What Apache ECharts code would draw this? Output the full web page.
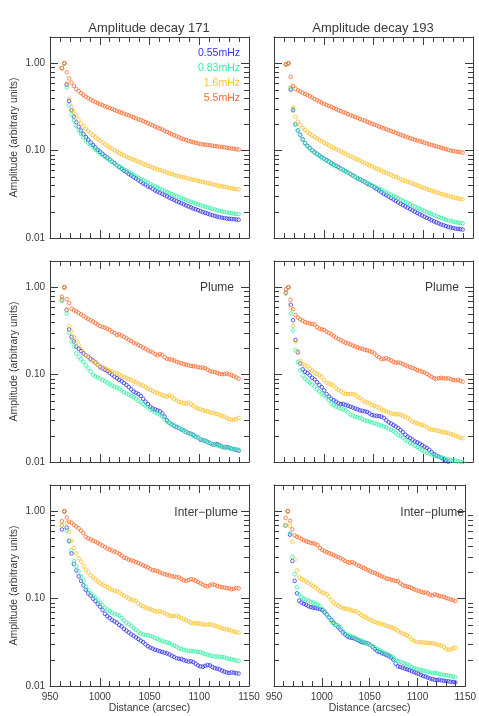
<!DOCTYPE html>
<html>
<head>
<meta charset="utf-8">
<script src="https://cdn.jsdelivr.net/npm/echarts/dist/echarts.min.js"></script>
<style>
html,body{margin:0;padding:0;background:#fff;}
#chart{width:479px;height:716px;}
</style>
</head>
<body>
<div id="chart"></div>
<script>
// ---- distances (arcsec) ----
const distance = [962.0,964.4,966.8,969.2,971.6,974.0,976.4,978.8,981.2,983.6,986.0,988.4,990.8,993.2,995.6,
998.0,1000.4,1002.8,1005.2,1007.6,1010.0,1012.4,1014.8,1017.2,1019.6,1022.0,1024.4,1026.8,1029.2,1031.6,
1034.0,1036.4,1038.8,1041.2,1043.6,1046.0,1048.4,1050.8,1053.2,1055.6,1058.0,1060.4,1062.8,1065.2,1067.6,
1070.0,1072.4,1074.8,1077.2,1079.6,1082.0,1084.4,1086.8,1089.2,1091.6,1094.0,1096.4,1098.8,1101.2,1103.6,
1106.0,1108.4,1110.8,1113.2,1115.6,1118.0,1120.4,1122.8,1125.2,1127.6,1130.0,1132.4,1134.8,1137.2,1139.6];

const seriesNames = ['0.55mHz','0.83mHz','1.6mHz','5.5mHz'];
const titles = ['Amplitude decay 171','Amplitude decay 193'];
const regionLabels = ['', 'Plume', 'Inter\u2212plume'];
const yTickLabels = [0.01, 0.1, 1];
const yMinorTicks = [0.02,0.03,0.04,0.05,0.06,0.07,0.08,0.09,0.2,0.3,0.4,0.5,0.6,0.7,0.8,0.9];

// ---- Amplitude decay 171 (all) ----
const all171Blue = [0.88,1.00,0.57,0.37,0.29, 0.245,0.212,0.188,0.170,0.155, 0.143,0.133,0.124,0.116,0.109,
0.102,0.097,0.092,0.087,0.083, 0.079,0.075,0.072,0.068,0.065, 0.062,0.059,0.057,0.054,0.052,
0.050,0.048,0.046,0.044,0.042, 0.041,0.039,0.038,0.0365,0.035, 0.034,0.033,0.032,0.031,0.030,
0.029,0.028,0.0272,0.0264,0.0257, 0.025,0.0243,0.0236,0.023,0.0224, 0.0218,0.0213,0.0208,0.0203,0.0198,
0.0194,0.019,0.0186,0.0182,0.0179, 0.0176,0.0173,0.0171,0.0169,0.0167, 0.0166,0.0165,0.0164,0.0163,0.0162];
const all171Green = [0.88,1.00,0.53,0.33,0.26, 0.22,0.19,0.17,0.155,0.142, 0.132,0.123,0.116,0.109,0.103,
0.098,0.093,0.089,0.085,0.081, 0.078,0.074,0.071,0.068,0.066, 0.063,0.061,0.059,0.057,0.055,
0.053,0.051,0.049,0.0475,0.046, 0.0445,0.043,0.0415,0.040,0.039, 0.0378,0.0367,0.0356,0.0346,0.0336,
0.0327,0.0318,0.031,0.0302,0.0294, 0.0287,0.028,0.0273,0.0266,0.026, 0.0254,0.0248,0.0243,0.0238,0.0233,
0.0228,0.0224,0.022,0.0216,0.0212, 0.0208,0.0205,0.0202,0.0199,0.0196, 0.0194,0.0192,0.019,0.0189,0.0188];
const all171Yellow = [0.88,1.00,0.59,0.39,0.32, 0.28,0.25,0.225,0.205,0.19, 0.178,0.167,0.158,0.150,0.143,
0.136,0.130,0.124,0.119,0.114, 0.109,0.105,0.101,0.097,0.094, 0.091,0.088,0.085,0.083,0.081,
0.079,0.077,0.075,0.073,0.071, 0.069,0.067,0.066,0.064,0.063, 0.061,0.060,0.059,0.057,0.056,
0.055,0.054,0.053,0.052,0.051, 0.050,0.0495,0.049,0.048,0.047, 0.0465,0.046,0.045,0.0445,0.044,
0.0432,0.0425,0.042,0.0413,0.0406, 0.040,0.0395,0.039,0.0385,0.038, 0.0375,0.037,0.0366,0.0362,0.036];
const all171Orange = [0.88,1.00,0.79,0.67,0.60, 0.55,0.51,0.48,0.455,0.435, 0.415,0.40,0.385,0.372,0.36,
0.35,0.34,0.331,0.323,0.315, 0.307,0.300,0.292,0.285,0.278, 0.271,0.265,0.259,0.253,0.247,
0.241,0.235,0.229,0.224,0.218, 0.212,0.206,0.200,0.195,0.189, 0.184,0.179,0.174,0.169,0.164,
0.159,0.154,0.150,0.146,0.142, 0.138,0.135,0.132,0.129,0.127, 0.125,0.123,0.121,0.119,0.118,
0.117,0.116,0.115,0.114,0.113, 0.112,0.111,0.110,0.109,0.108, 0.107,0.106,0.105,0.104,0.103];

// ---- Amplitude decay 193 (all) ----
const all193Blue = [0.97,1.00,0.50,0.29,0.20, 0.17,0.152,0.135,0.122,0.113, 0.107,0.101,0.096,0.092,0.088,
0.084,0.081,0.078,0.075,0.072, 0.069,0.067,0.065,0.062,0.060, 0.058,0.056,0.054,0.052,0.050,
0.048,0.047,0.045,0.044,0.042, 0.041,0.0395,0.038,0.0365,0.035, 0.0335,0.032,0.031,0.0298,0.0287,
0.0276,0.0266,0.0256,0.0247,0.0238, 0.023,0.0222,0.0214,0.0207,0.020, 0.0193,0.0187,0.0181,0.0175,0.017,
0.0165,0.016,0.0155,0.0151,0.0147, 0.0143,0.014,0.0137,0.0134,0.0132, 0.013,0.0128,0.0127,0.0126,0.0125];
const all193Green = [0.97,1.00,0.52,0.30,0.20, 0.17,0.150,0.133,0.121,0.112, 0.106,0.100,0.095,0.091,0.087,
0.083,0.080,0.077,0.074,0.071, 0.068,0.066,0.064,0.062,0.060, 0.058,0.056,0.054,0.052,0.050,
0.048,0.047,0.0455,0.044,0.043, 0.0415,0.040,0.039,0.0378,0.0366, 0.0355,0.0344,0.0333,0.0322,0.0312,
0.0302,0.0293,0.0284,0.0275,0.0267, 0.0259,0.0251,0.0243,0.0236,0.0229, 0.0222,0.0216,0.021,0.0204,0.0198,
0.0193,0.0188,0.0183,0.0178,0.0174, 0.017,0.0166,0.0162,0.0159,0.0156, 0.0154,0.0152,0.015,0.0148,0.0147];
const all193Yellow = [0.97,1.00,0.54,0.31,0.245, 0.215,0.197,0.182,0.172,0.163, 0.156,0.149,0.143,0.138,0.133,
0.128,0.123,0.119,0.115,0.111, 0.107,0.104,0.101,0.098,0.095, 0.092,0.089,0.086,0.084,0.081,
0.079,0.077,0.074,0.072,0.070, 0.068,0.066,0.064,0.062,0.061, 0.059,0.057,0.056,0.054,0.053,
0.051,0.050,0.049,0.047,0.046, 0.045,0.044,0.043,0.042,0.041, 0.040,0.039,0.038,0.0372,0.0364,
0.0356,0.0348,0.034,0.0333,0.0326, 0.032,0.0314,0.0308,0.0302,0.0297, 0.0292,0.0288,0.0284,0.028,0.0277];
const all193Orange = [0.97,1.00,0.70,0.55,0.51, 0.49,0.475,0.46,0.445,0.432, 0.42,0.405,0.39,0.378,0.366,
0.354,0.344,0.334,0.325,0.316, 0.307,0.299,0.291,0.283,0.276, 0.269,0.262,0.255,0.249,0.243,
0.237,0.231,0.225,0.22,0.214, 0.209,0.204,0.199,0.194,0.189, 0.185,0.18,0.176,0.172,0.168,
0.164,0.16,0.156,0.152,0.149, 0.145,0.142,0.139,0.136,0.133, 0.131,0.128,0.126,0.123,0.121,
0.118,0.116,0.114,0.112,0.110, 0.108,0.106,0.104,0.102,0.100, 0.099,0.098,0.097,0.096,0.095];

// ---- Plume 171 ----
const plume171Blue = [0.72,1.00,0.55,0.33,0.27, 0.24,0.21,0.198,0.186,0.175, 0.167,0.16,0.152,0.145,0.138,
0.13,0.122,0.118,0.114,0.11, 0.105,0.10,0.095,0.091,0.087, 0.084,0.080,0.076,0.072,0.068,
0.064,0.062,0.06,0.057,0.053, 0.049,0.046,0.043,0.041,0.040, 0.039,0.038,0.036,0.033,0.030,
0.028,0.027,0.026,0.025,0.0245, 0.0235,0.023,0.022,0.0215,0.021, 0.0205,0.0195,0.019,0.018,0.0178,
0.0175,0.017,0.0165,0.016,0.0158, 0.016,0.0155,0.015,0.0147,0.0148, 0.0146,0.0142,0.014,0.0138,0.0135];
const plume171Green = [0.70,1.00,0.50,0.30,0.24, 0.21,0.175,0.16,0.15,0.14, 0.128,0.118,0.108,0.10,0.096,
0.093,0.090,0.087,0.084,0.081, 0.078,0.075,0.073,0.071,0.069, 0.066,0.063,0.061,0.059,0.057,
0.055,0.053,0.050,0.048,0.046, 0.044,0.042,0.040,0.039,0.037, 0.036,0.035,0.033,0.031,0.029,
0.028,0.027,0.0262,0.0255,0.0245, 0.0235,0.0228,0.0222,0.0215,0.0208, 0.020,0.0195,0.019,0.0183,0.0178,
0.0172,0.0168,0.0164,0.016,0.0157, 0.0155,0.0152,0.015,0.0148,0.0145, 0.0144,0.0142,0.0141,0.014,0.0138];
const plume171Yellow = [0.72,1.00,0.56,0.36,0.31, 0.27,0.245,0.22,0.195,0.18, 0.168,0.158,0.148,0.142,0.136,
0.13,0.125,0.121,0.118,0.114, 0.111,0.108,0.105,0.103,0.10, 0.097,0.094,0.092,0.089,0.087,
0.084,0.082,0.079,0.077,0.075, 0.072,0.069,0.067,0.065,0.063, 0.062,0.060,0.058,0.057,0.056,
0.058,0.056,0.053,0.051,0.049, 0.048,0.047,0.0465,0.048,0.046, 0.044,0.042,0.041,0.040,0.039,
0.0385,0.038,0.037,0.0365,0.036, 0.0355,0.0345,0.0335,0.033,0.032, 0.031,0.0305,0.0305,0.031,0.032];
const plume171Orange = [0.78,1.00,0.73,0.66,0.57, 0.545,0.53,0.51,0.49,0.47, 0.45,0.435,0.42,0.405,0.39,
0.375,0.36,0.352,0.345,0.335, 0.325,0.31,0.30,0.285,0.29, 0.28,0.27,0.262,0.25,0.243,
0.232,0.226,0.218,0.212,0.204, 0.198,0.19,0.184,0.18,0.172, 0.166,0.172,0.168,0.158,0.152,
0.15,0.148,0.145,0.14,0.138, 0.135,0.132,0.13,0.128,0.126, 0.125,0.124,0.122,0.12,0.121,
0.118,0.114,0.11,0.108,0.107, 0.105,0.102,0.101,0.102,0.103, 0.101,0.099,0.096,0.093,0.090];

// ---- Plume 193 ----
const plume193Blue = [0.87,1.00,0.63,0.42,0.25, 0.18,0.135,0.115,0.108,0.104, 0.098,0.092,0.088,0.082,0.076,
0.072,0.066,0.06,0.056,0.053, 0.051,0.049,0.047,0.046,0.046, 0.045,0.044,0.043,0.042,0.041,
0.040,0.039,0.0385,0.038,0.0375, 0.036,0.0345,0.034,0.0338,0.0335, 0.033,0.032,0.030,0.0285,0.0275,
0.0265,0.0255,0.0245,0.0232,0.022, 0.0205,0.0195,0.0188,0.018,0.0172, 0.0168,0.0162,0.0156,0.015,0.0145,
0.0138,0.013,0.0123,0.0118,0.0115, 0.0112,0.0108,0.0104,0.0101,0.0099, 0.0097,0.0096,0.0095,0.0094,0.0093];
const plume193Green = [0.85,1.00,0.50,0.32,0.19, 0.14,0.112,0.098,0.09,0.085, 0.081,0.077,0.073,0.068,0.064,
0.061,0.058,0.055,0.051,0.047, 0.045,0.043,0.042,0.041,0.040, 0.039,0.037,0.035,0.034,0.033,
0.0325,0.032,0.031,0.030,0.0295, 0.029,0.0283,0.0278,0.0272,0.0266, 0.026,0.0255,0.025,0.024,0.0234,
0.0225,0.0215,0.0205,0.0198,0.019, 0.0178,0.0172,0.0165,0.016,0.0153, 0.0148,0.0142,0.0137,0.0132,0.0128,
0.0125,0.0122,0.0119,0.0117,0.0115, 0.0113,0.0111,0.0109,0.0107,0.0105, 0.0104,0.0103,0.0102,0.0101,0.0100];
const plume193Yellow = [0.85,1.00,0.58,0.36,0.24, 0.185,0.145,0.132,0.128,0.124, 0.117,0.111,0.106,0.102,0.099,
0.094,0.086,0.081,0.079,0.077, 0.075,0.07,0.067,0.065,0.062, 0.06,0.06,0.06,0.06,0.059,
0.056,0.054,0.051,0.049,0.048, 0.047,0.045,0.044,0.043,0.042, 0.04,0.039,0.038,0.037,0.036,
0.0355,0.035,0.0352,0.0348,0.034, 0.033,0.032,0.0305,0.029,0.0283, 0.0278,0.027,0.0265,0.026,0.025,
0.024,0.0235,0.0232,0.023,0.0226, 0.0222,0.022,0.0217,0.0213,0.021, 0.0205,0.02,0.0195,0.019,0.0187];
const plume193Orange = [0.95,1.00,0.72,0.56,0.48, 0.45,0.43,0.415,0.40,0.39, 0.385,0.38,0.375,0.35,0.335,
0.33,0.325,0.31,0.30,0.29, 0.278,0.265,0.255,0.248,0.24, 0.232,0.228,0.222,0.215,0.21,
0.205,0.20,0.197,0.192,0.19, 0.186,0.182,0.175,0.165,0.158, 0.15,0.152,0.154,0.15,0.146,
0.14,0.137,0.138,0.136,0.132, 0.128,0.125,0.122,0.119,0.116, 0.113,0.11,0.108,0.106,0.102,
0.098,0.094,0.091,0.09,0.091, 0.092,0.091,0.09,0.091,0.089, 0.087,0.086,0.087,0.085,0.083];

// ---- Inter-plume 171 ----
const inter171Blue = [0.62,1.00,0.65,0.46,0.33, 0.25,0.21,0.18,0.16,0.142, 0.126,0.115,0.108,0.10,0.094,
0.087,0.081,0.074,0.067,0.063, 0.06,0.057,0.055,0.053,0.05, 0.048,0.045,0.043,0.041,0.039,
0.0375,0.036,0.0345,0.033,0.0318, 0.030,0.0285,0.0275,0.0268,0.026, 0.0255,0.025,0.0245,0.024,0.0236,
0.023,0.0222,0.0215,0.0208,0.0205, 0.0204,0.0198,0.0194,0.019,0.0192, 0.0188,0.018,0.0172,0.0168,0.0166,
0.017,0.0174,0.0172,0.0165,0.016, 0.0158,0.0155,0.015,0.0146,0.0143, 0.0141,0.0143,0.0142,0.014,0.0139];
const inter171Green = [0.69,1.00,0.60,0.45,0.36, 0.27,0.235,0.205,0.18,0.16, 0.138,0.125,0.115,0.108,0.103,
0.096,0.09,0.084,0.078,0.075, 0.072,0.069,0.066,0.066,0.064, 0.06,0.056,0.053,0.051,0.049,
0.046,0.044,0.042,0.040,0.039, 0.0385,0.038,0.0375,0.0365,0.0355, 0.0345,0.0335,0.0328,0.032,0.0315,
0.031,0.0298,0.029,0.0282,0.0272, 0.0265,0.026,0.0255,0.0252,0.0253, 0.025,0.0248,0.0246,0.0243,0.0238,
0.0232,0.0228,0.0224,0.022,0.0217, 0.0218,0.0216,0.0214,0.0212,0.0208, 0.0205,0.0202,0.0198,0.0196,0.0194];
const inter171Yellow = [0.69,1.00,0.74,0.58,0.46, 0.38,0.33,0.29,0.265,0.235, 0.215,0.20,0.185,0.175,0.166,
0.157,0.15,0.145,0.14,0.136, 0.13,0.126,0.123,0.122,0.118, 0.112,0.108,0.104,0.10,0.097,
0.096,0.094,0.088,0.084,0.082, 0.079,0.077,0.076,0.074,0.072, 0.071,0.072,0.07,0.068,0.066,
0.064,0.063,0.063,0.064,0.062, 0.06,0.058,0.057,0.055,0.053, 0.052,0.0525,0.052,0.0515,0.051,
0.05,0.0505,0.051,0.05,0.049, 0.048,0.047,0.046,0.045,0.0445, 0.044,0.043,0.042,0.0415,0.041];
const inter171Orange = [0.77,1.00,0.85,0.76,0.74, 0.70,0.67,0.64,0.60,0.565, 0.51,0.49,0.475,0.46,0.45,
0.435,0.42,0.405,0.39,0.375, 0.365,0.355,0.345,0.338,0.325, 0.31,0.295,0.29,0.28,0.275,
0.27,0.262,0.255,0.248,0.24, 0.235,0.228,0.218,0.212,0.21, 0.207,0.2,0.195,0.19,0.188,
0.185,0.18,0.179,0.176,0.175, 0.168,0.162,0.16,0.163,0.167, 0.165,0.16,0.155,0.15,0.145,
0.14,0.138,0.142,0.146,0.144, 0.14,0.137,0.135,0.134,0.132, 0.131,0.128,0.13,0.132,0.131];

// ---- Inter-plume 193 ----
const inter193Blue = [0.69,1.00,0.54,0.27,0.16, 0.115,0.095,0.09,0.087,0.085, 0.082,0.08,0.079,0.078,0.077,
0.076,0.074,0.07,0.066,0.061, 0.057,0.053,0.05,0.047,0.044, 0.041,0.039,0.037,0.036,0.0355,
0.035,0.034,0.033,0.032,0.0315, 0.031,0.0305,0.0295,0.028,0.0265, 0.025,0.0245,0.0238,0.0232,0.0226,
0.022,0.0212,0.02,0.018,0.0168, 0.0165,0.0162,0.0158,0.0155,0.0152, 0.0148,0.0144,0.0141,0.0138,0.0134,
0.013,0.0128,0.0125,0.0122,0.012, 0.0118,0.0117,0.0118,0.0116,0.0115, 0.0114,0.0113,0.0112,0.0111,0.011];
const inter193Green = [0.69,1.00,0.56,0.30,0.19, 0.135,0.112,0.104,0.10,0.098, 0.095,0.092,0.09,0.087,0.085,
0.082,0.077,0.072,0.065,0.06, 0.055,0.051,0.05,0.049,0.047, 0.043,0.04,0.0385,0.0378,0.037,
0.036,0.0348,0.0338,0.033,0.0322, 0.0312,0.0303,0.0295,0.0285,0.0275, 0.0265,0.0256,0.0248,0.024,0.0234,
0.0228,0.022,0.021,0.0198,0.0192, 0.019,0.0185,0.018,0.0177,0.0172, 0.0165,0.016,0.0157,0.0155,0.0153,
0.015,0.0148,0.0146,0.0143,0.0141, 0.0142,0.014,0.0137,0.0135,0.0134, 0.0133,0.0132,0.013,0.0128,0.0126];
const inter193Yellow = [0.70,1.00,0.68,0.45,0.28, 0.21,0.175,0.168,0.163,0.158, 0.152,0.146,0.14,0.135,0.128,
0.122,0.118,0.115,0.112,0.105, 0.096,0.09,0.086,0.083,0.08, 0.078,0.077,0.076,0.075,0.073,
0.072,0.071,0.068,0.065,0.063, 0.061,0.059,0.057,0.056,0.054, 0.053,0.052,0.051,0.05,0.049,
0.048,0.047,0.046,0.045,0.043, 0.041,0.04,0.039,0.038,0.0365, 0.034,0.033,0.032,0.0318,0.0316,
0.0315,0.0314,0.0312,0.031,0.0308, 0.0304,0.03,0.0295,0.029,0.028, 0.0265,0.026,0.0262,0.027,0.0275];
const inter193Orange = [0.84,1.00,0.78,0.62,0.53, 0.51,0.50,0.48,0.465,0.455, 0.445,0.435,0.43,0.425,0.41,
0.38,0.362,0.35,0.34,0.332, 0.325,0.315,0.305,0.298,0.29, 0.28,0.27,0.262,0.258,0.262,
0.255,0.245,0.238,0.232,0.225, 0.218,0.212,0.206,0.2,0.196, 0.19,0.186,0.18,0.175,0.17,
0.168,0.165,0.162,0.16,0.158, 0.15,0.143,0.14,0.138,0.136, 0.132,0.128,0.125,0.123,0.12,
0.117,0.118,0.115,0.111,0.109, 0.112,0.11,0.107,0.106,0.105, 0.102,0.1,0.098,0.096,0.094];

// ---- styling ----
const COLORS = ['#3535f0', '#33f0a5', '#ffc22a', '#ff6a30'];
const FRAME = '#3c3c3c';
const TEXT = '#3a3a3a';
const FONT = '"Liberation Sans", Arial, sans-serif';
const PW = 199, PH = 201;
const X_MIN = 950, X_MAX = 1150, Y_MIN = 0.01, Y_MAX = 2;
const MINOR_LEN = 5;

const panels = [
  {left: 50,  top: 37,  data: [all171Blue, all171Green, all171Yellow, all171Orange], col: 0, row: 0},
  {left: 274, top: 37,  data: [all193Blue, all193Green, all193Yellow, all193Orange], col: 1, row: 0},
  {left: 50,  top: 261, data: [plume171Blue, plume171Green, plume171Yellow, plume171Orange], col: 0, row: 1},
  {left: 274, top: 261, data: [plume193Blue, plume193Green, plume193Yellow, plume193Orange], col: 1, row: 1},
  {left: 50,  top: 485, data: [inter171Blue, inter171Green, inter171Yellow, inter171Orange], col: 0, row: 2},
  {left: 274, top: 485, data: [inter193Blue, inter193Green, inter193Yellow, inter193Orange], col: 1, row: 2}
];

const grid = [], xAxis = [], yAxis = [], series = [];
const lineStyle = {color: FRAME, width: 1};

panels.forEach((p, k) => {
  grid.push({left: p.left, top: p.top, width: PW, height: PH});
  const bottomRow = p.row === 2, leftCol = p.col === 0;
  const xBase = {
    type: 'value', gridIndex: k, min: X_MIN, max: X_MAX, interval: 50,
    axisLine: {show: true, onZero: false, lineStyle}, splitLine: {show: false},
    axisTick: {show: true, inside: true, length: 8, lineStyle},
    minorTick: {show: true, splitNumber: 5, length: MINOR_LEN, lineStyle},
    minorSplitLine: {show: false}
  };
  xAxis.push(Object.assign({}, xBase, {
    position: 'bottom',
    axisLabel: {show: bottomRow, margin: 6, fontSize: 10, color: TEXT, fontFamily: FONT, formatter: v => String(v)},
    name: bottomRow ? 'Distance (arcsec)' : '', nameLocation: 'middle', nameGap: 17,
    nameTextStyle: {fontSize: 10.5, color: TEXT, fontFamily: FONT}
  }));
  xAxis.push(Object.assign({}, xBase, {position: 'top', axisLabel: {show: false}}));

  const yBase = {
    type: 'log', logBase: 10, gridIndex: k, min: Y_MIN, max: Y_MAX,
    axisLine: {show: true, onZero: false, lineStyle}, splitLine: {show: false},
    axisTick: {show: true, inside: true, length: 8, lineStyle}
  };
  yAxis.push(Object.assign({}, yBase, {
    position: 'left',
    axisLabel: {show: leftCol, margin: 5, fontSize: 10, color: TEXT, fontFamily: FONT, showMaxLabel: false,
      formatter: v => (yTickLabels.some(t => Math.abs(t - v) < t * 1e-6) ? Number(v).toFixed(2) : '')},
    name: leftCol ? 'Amplitude (arbitrary units)' : '', nameLocation: 'middle', nameGap: 30,
    nameTextStyle: {fontSize: 10.5, color: TEXT, fontFamily: FONT}
  }));
  yAxis.push(Object.assign({}, yBase, {position: 'right', axisLabel: {show: false}}));

  p.data.forEach((vals, s) => {
    series.push({
      type: 'scatter', name: seriesNames[s], xAxisIndex: 2 * k, yAxisIndex: 2 * k,
      data: distance.map((d, i) => [d, vals[i]]),
      symbol: 'circle', symbolSize: 3.6, silent: true,
      itemStyle: {color: 'rgba(0,0,0,0)', borderColor: COLORS[s], borderWidth: 1},
      emphasis: {disabled: true}
    });
  });
});

const txt = (x, y, text, size, color, align) => ({
  type: 'text', x, y, silent: true,
  style: {text, fontSize: size, fontFamily: FONT, fill: color, align: align, verticalAlign: 'middle'}
});

const texts = [
  txt(149, 28, titles[0], 13, TEXT, 'center'),
  txt(373, 28, titles[1], 13, TEXT, 'center'),
  txt(240, 53, seriesNames[0], 10.5, COLORS[0], 'right'),
  txt(240, 68, seriesNames[1], 10.5, COLORS[1], 'right'),
  txt(240, 83, seriesNames[2], 10.5, COLORS[2], 'right'),
  txt(240, 98, seriesNames[3], 10.5, COLORS[3], 'right'),
  txt(234, 288, regionLabels[1], 12, TEXT, 'right'),
  txt(459, 288, regionLabels[1], 12, TEXT, 'right'),
  txt(238, 513, regionLabels[2], 12, TEXT, 'right'),
  txt(464, 513, regionLabels[2], 12, TEXT, 'right')
];

// minor log ticks (2..9 x decade) on both y axes of every panel
const LMAX = Math.log10(Y_MAX), LMIN = Math.log10(Y_MIN);
function tickY(p, v) {
  return Math.round(p.top + PH * (LMAX - Math.log10(v)) / (LMAX - LMIN));
}
const minorRects = [];
panels.forEach(p => {
  yMinorTicks.forEach(v => {
    const y = tickY(p, v);
    minorRects.push({type: 'rect', silent: true, z: 100,
      shape: {x: p.left, y: y, width: MINOR_LEN, height: 1}, style: {fill: FRAME}});
    minorRects.push({type: 'rect', silent: true, z: 100,
      shape: {x: p.left + PW - MINOR_LEN, y: y, width: MINOR_LEN, height: 1}, style: {fill: FRAME}});
  });
});

const chart = echarts.init(document.getElementById('chart'), null, {renderer: 'canvas'});
chart.setOption({
  animation: false,
  backgroundColor: '#fff',
  grid, xAxis, yAxis, series, graphic: texts.concat(minorRects)
});
</script>
</body>
</html>
